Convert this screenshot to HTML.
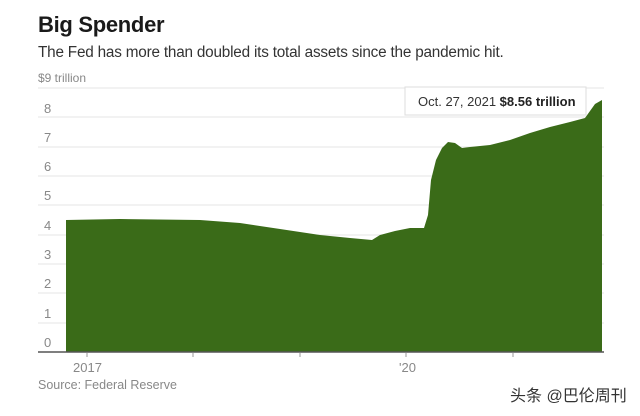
<!DOCTYPE html>
<html><head><meta charset="utf-8"><style>
body{margin:0;background:#fff;width:640px;height:416px;overflow:hidden;font-family:"Liberation Sans",sans-serif;}
</style></head><body>
<svg width="640" height="416" xmlns="http://www.w3.org/2000/svg" style="position:absolute;left:0;top:0">
<text x="38" y="32" font-size="22" font-weight="bold" fill="#1a1a1a" letter-spacing="-0.3">Big Spender</text>
<text x="38" y="57" font-size="15.3" fill="#333" letter-spacing="-0.2">The Fed has more than doubled its total assets since the pandemic hit.</text>
<text x="38" y="82" font-size="12" fill="#888">$9 trillion</text>
<g stroke="#e6e6e6" stroke-width="1">
<line x1="38" y1="88" x2="604" y2="88"/><line x1="38" y1="117" x2="604" y2="117"/><line x1="38" y1="147" x2="604" y2="147"/><line x1="38" y1="176" x2="604" y2="176"/><line x1="38" y1="205" x2="604" y2="205"/><line x1="38" y1="235" x2="604" y2="235"/><line x1="38" y1="264" x2="604" y2="264"/><line x1="38" y1="293" x2="604" y2="293"/><line x1="38" y1="323" x2="604" y2="323"/>
</g>
<g font-size="13" fill="#888">
<text x="44" y="113">8</text><text x="44" y="142">7</text><text x="44" y="171">6</text><text x="44" y="200">5</text><text x="44" y="230">4</text><text x="44" y="259">3</text><text x="44" y="288">2</text><text x="44" y="318">1</text><text x="44" y="347">0</text>
</g>
<path d="M66,352 L66,220 L120,219 L200,220 L240,223 L280,229 L320,235 L350,238 L372,240 L380,235 L395,231 L410,228 L424,228 L428,215 L431,180 L436,160 L442,148 L448,142 L455,143 L462,148 L470,147 L490,145 L510,140 L530,133 L550,127 L570,122 L585,118 L595,104 L602,100 L602,352 Z" fill="#3a6b18"/>
<line x1="38" y1="352" x2="604" y2="352" stroke="#555" stroke-width="1.5"/>
<g stroke="#999"><line x1="87" y1="353" x2="87" y2="357"/><line x1="193" y1="353" x2="193" y2="357"/><line x1="300" y1="353" x2="300" y2="357"/><line x1="406" y1="353" x2="406" y2="357"/><line x1="513" y1="353" x2="513" y2="357"/></g>
<text x="73" y="372" font-size="13" fill="#888">2017</text>
<text x="399" y="372" font-size="13" fill="#888">'20</text>
<text x="38" y="389" font-size="12.5" fill="#888">Source: Federal Reserve</text>
<rect x="405" y="87" width="181" height="28" fill="#fff" stroke="#ddd"/>
<text x="418" y="106" font-size="13" fill="#333">Oct. 27, 2021 <tspan font-weight="bold" fill="#222">$8.56 trillion</tspan></text>
<text x="510" y="401" font-size="16" fill="#333" font-family="'Liberation Sans','Noto Sans CJK SC',sans-serif">头条 @巴伦周刊</text>
</svg>
</body></html>
